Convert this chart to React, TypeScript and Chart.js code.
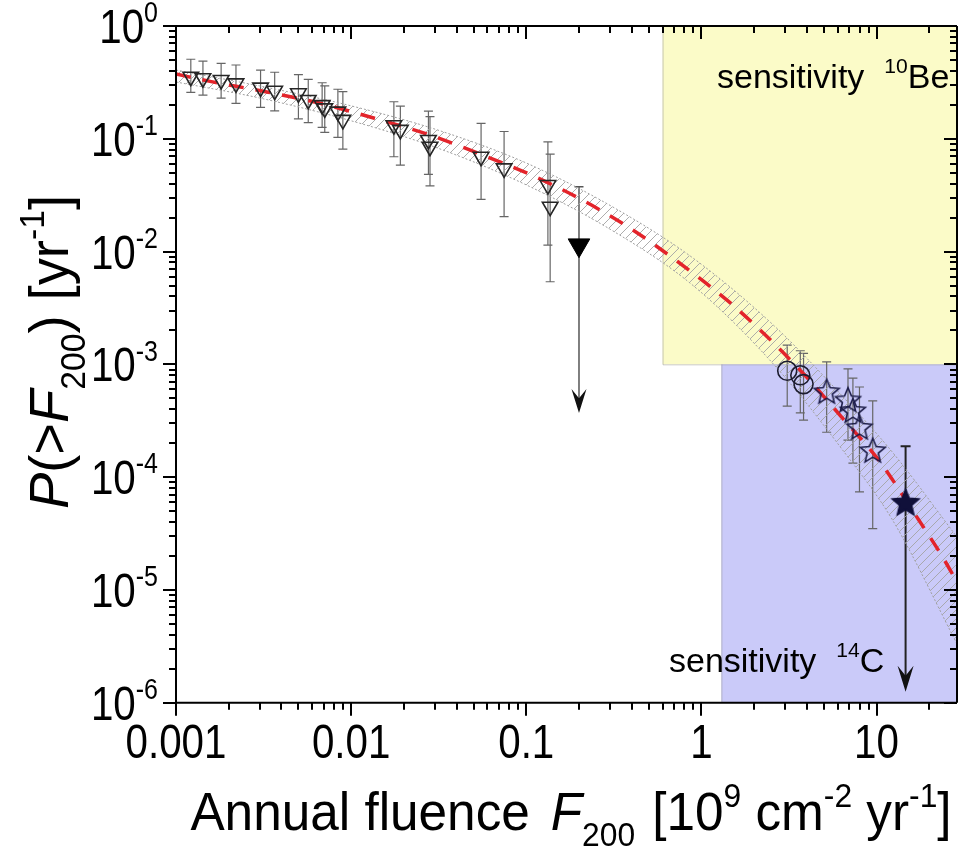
import { useEffect, useRef } from 'react';
import { Chart, registerables } from 'chart.js';
Chart.register(...registerables);

const W = 972;
const H = 848;
const FONT = '"Liberation Sans", Arial, sans-serif';

const X_MIN = 0.001;
const X_MAX = 28.8;
const Y_MIN = 1e-6;
const Y_MAX = 1;
const xTickValues = [0.001, 0.01, 0.1, 1, 10];
const xTickLabels = ['0.001', '0.01', '0.1', '1', '10'];
const yTickExponents = [0, -1, -2, -3, -4, -5, -6];

// sensitivity regions
const be10MinX = 0.6;
const be10MinY = 1e-3;
const c14MinX = 1.3;
const c14MaxY = 1e-3;

// fitted curve (red dashed)
const fitX = [0.001, 0.00159, 0.00325, 0.00665, 0.0136, 0.0272, 0.0533, 0.107, 0.209, 0.392, 0.734, 1.4, 2.27, 3.9, 6.43, 10.35, 16, 24.1, 29];
const fitY = [0.375, 0.321, 0.2615, 0.2063, 0.152, 0.11, 0.0743, 0.0477, 0.0286, 0.0161, 0.00812, 0.00371, 0.00188, 8.0e-4, 3.3e-4, 1.4e-4, 5.1e-5, 1.9e-5, 1.15e-5];

// uncertainty band
const bandX = [0.001, 0.003, 0.0096, 0.031, 0.1, 0.32, 0.91, 2.6, 6.4, 12.3, 29];
const bandUpper = [0.407, 0.294, 0.199, 0.12, 0.061, 0.0243, 0.0086, 0.0022, 5.2e-4, 1.67e-4, 2.9e-5];
const bandLower = [0.319, 0.23, 0.147, 0.083, 0.039, 0.0149, 0.0049, 9.9e-4, 1.74e-4, 4.2e-5, 3.25e-6];

// open triangles
const triX = [0.001215, 0.001425, 0.00181, 0.0022, 0.00304, 0.00366, 0.005, 0.00569, 0.00683, 0.00707, 0.0084, 0.00897, 0.01754, 0.0191, 0.02763, 0.0282, 0.0552, 0.0747, 0.1329, 0.1369];
const triY = [0.355, 0.344, 0.332, 0.31, 0.284, 0.267, 0.253, 0.221, 0.199, 0.186, 0.174, 0.147, 0.132, 0.12, 0.0975, 0.085, 0.0693, 0.0547, 0.0389, 0.025];
const triHi = [0.507, 0.489, 0.467, 0.451, 0.407, 0.389, 0.37, 0.337, 0.314, 0.295, 0.275, 0.262, 0.213, 0.195, 0.176, 0.157, 0.137, 0.116, 0.094, 0.073];
const triLo = [0.258, 0.244, 0.229, 0.206, 0.19, 0.177, 0.15, 0.139, 0.126, 0.114, 0.103, 0.081, 0.0693, 0.0585, 0.0484, 0.0383, 0.029, 0.0204, 0.0114, 0.0054];

// upper limit (filled triangle)
const limX = [0.2];
const limY = [0.0114];
const limHi = [0.0376];
const limTip = [3.7e-4];

// open circles
const circX = [3.09, 3.67, 3.83];
const circY = [8.77e-4, 8.0e-4, 6.68e-4];
const circHi = [1.48e-3, 1.32e-3, 1.25e-3];
const circLo = [4.26e-4, 3.72e-4, 3.2e-4];

// open stars
const starX = [5.19, 6.87, 7.33, 7.99, 9.51];
const starY = [5.79e-4, 4.89e-4, 3.93e-4, 2.79e-4, 1.74e-4];
const starHi = [1.05e-3, 9.1e-4, 7.55e-4, 6.3e-4, 4.75e-4];
const starLo = [2.5e-4, 2.13e-4, 1.33e-4, 7.4e-5, 3.5e-5];

// filled star (upper limit)
const fStarX = [14.65];
const fStarY = [6.04e-5];
const fStarHi = [1.88e-4];
const fStarTip = [1.25e-6];

type Seg = { t: string; it?: boolean; sup?: boolean; sub?: boolean; dx?: number };

function segFont(s: Seg, size: number) {
  const sz = s.sup || s.sub ? size * 0.62 : size;
  return `${s.it ? 'italic ' : ''}${sz}px ${FONT}`;
}

function drawRich(ctx: CanvasRenderingContext2D, segs: Seg[], x: number, y: number, size: number, align: 'left' | 'center' | 'right', sx = 1) {
  ctx.save();
  ctx.translate(x, y);
  ctx.scale(sx, 1);
  ctx.textBaseline = 'alphabetic';
  ctx.textAlign = 'left';
  let total = 0;
  const ws: number[] = [];
  for (const s of segs) {
    ctx.font = segFont(s, size);
    const w = ctx.measureText(s.t).width;
    ws.push(w);
    total += w + (s.dx || 0);
  }
  let cx = align === 'left' ? 0 : align === 'center' ? -total / 2 : -total;
  segs.forEach((s, i) => {
    cx += s.dx || 0;
    ctx.font = segFont(s, size);
    const dy = s.sup ? -0.43 * size : s.sub ? 0.3 * size : 0;
    ctx.fillText(s.t, cx, dy);
    cx += ws[i];
  });
  ctx.restore();
}

function makeStar(R: number, fill: string | null, stroke: string, lw: number) {
  const s = Math.ceil(2 * R + lw * 2 + 4);
  const c = document.createElement('canvas');
  c.width = s;
  c.height = s;
  const g = c.getContext('2d')!;
  const cx = s / 2;
  const cy = s / 2 + R * 0.1;
  g.beginPath();
  for (let i = 0; i < 10; i++) {
    const r = i % 2 === 0 ? R : R * 0.45;
    const a = -Math.PI / 2 + (i * Math.PI) / 5;
    g.lineTo(cx + r * Math.cos(a), cy + r * Math.sin(a));
  }
  g.closePath();
  if (fill) {
    g.fillStyle = fill;
    g.fill();
  }
  g.strokeStyle = stroke;
  g.lineWidth = lw;
  g.stroke();
  return c;
}

function vbar(ctx: CanvasRenderingContext2D, x: number, y1: number, y2: number, cap: number, top: boolean, bottom: boolean) {
  ctx.beginPath();
  ctx.moveTo(x, y1);
  ctx.lineTo(x, y2);
  if (top) {
    ctx.moveTo(x - cap, y1);
    ctx.lineTo(x + cap, y1);
  }
  if (bottom) {
    ctx.moveTo(x - cap, y2);
    ctx.lineTo(x + cap, y2);
  }
  ctx.stroke();
}

function arrowHead(ctx: CanvasRenderingContext2D, x: number, yt: number, w: number, len: number) {
  ctx.beginPath();
  ctx.moveTo(x, yt);
  ctx.lineTo(x - w / 2, yt - len);
  ctx.lineTo(x, yt - len * 0.62);
  ctx.lineTo(x + w / 2, yt - len);
  ctx.closePath();
  ctx.fill();
}

const deco = {
  id: 'deco',
  beforeDatasetsDraw(chart: any) {
    const { ctx, chartArea: a, scales } = chart;
    const xs = scales.x;
    const ys = scales.y;
    ctx.save();
    ctx.beginPath();
    ctx.rect(a.left, a.top, a.right - a.left, a.bottom - a.top);
    ctx.clip();
    const bx = xs.getPixelForValue(be10MinX);
    const by = ys.getPixelForValue(be10MinY);
    ctx.fillStyle = '#fbfbc8';
    ctx.fillRect(bx, a.top, a.right - bx, by - a.top);
    const cx = xs.getPixelForValue(c14MinX);
    const cy = ys.getPixelForValue(c14MaxY);
    ctx.fillStyle = '#cacaf9';
    ctx.fillRect(cx, cy, a.right - cx, a.bottom - cy);
    ctx.strokeStyle = 'rgba(150,150,150,0.5)';
    ctx.lineWidth = 1;
    ctx.beginPath();
    ctx.moveTo(bx + 0.5, a.top);
    ctx.lineTo(bx + 0.5, by + 0.5);
    ctx.lineTo(a.right, by + 0.5);
    ctx.moveTo(cx + 0.5, cy);
    ctx.lineTo(cx + 0.5, a.bottom);
    ctx.stroke();

    // error bars
    ctx.strokeStyle = '#666';
    ctx.lineWidth = 1.2;
    const bars = (X: number[], HI: number[], LO: number[]) => {
      X.forEach((v, i) => {
        vbar(ctx, xs.getPixelForValue(v), ys.getPixelForValue(HI[i]), ys.getPixelForValue(LO[i]), 4.5, true, true);
      });
    };
    bars(triX, triHi, triLo);
    bars(circX, circHi, circLo);
    bars(starX, starHi, starLo);

    // upper-limit arrows
    ctx.strokeStyle = '#555';
    ctx.fillStyle = '#111';
    ctx.lineWidth = 1.5;
    limX.forEach((v, i) => {
      const px = xs.getPixelForValue(v);
      const tip = ys.getPixelForValue(limTip[i]);
      vbar(ctx, px, ys.getPixelForValue(limHi[i]), tip - 10, 4.5, true, false);
      arrowHead(ctx, px, tip, 15, 24);
    });
    ctx.strokeStyle = '#222';
    ctx.lineWidth = 2;
    fStarX.forEach((v, i) => {
      const px = xs.getPixelForValue(v);
      const tip = ys.getPixelForValue(fStarTip[i]);
      vbar(ctx, px, ys.getPixelForValue(fStarHi[i]), tip - 10, 5, true, false);
      arrowHead(ctx, px, tip, 16, 26);
    });
    ctx.restore();
  },
  afterDraw(chart: any) {
    const { ctx, chartArea: a, scales } = chart;
    const xs = scales.x;
    const ys = scales.y;
    ctx.save();
    ctx.strokeStyle = '#000';
    ctx.fillStyle = '#000';
    ctx.lineWidth = 2;
    ctx.beginPath();
    ctx.moveTo(a.left, a.top);
    ctx.lineTo(a.right, a.top);
    ctx.moveTo(a.left, a.bottom);
    ctx.lineTo(a.right, a.bottom);
    ctx.moveTo(a.left, a.top);
    ctx.lineTo(a.left, a.bottom);
    ctx.moveTo(a.right, a.top);
    ctx.lineTo(a.right, a.bottom);
    ctx.stroke();
    const MAJ = 13;
    const MIN = 7;
    ctx.beginPath();
    for (let d = -3; d <= 1; d++) {
      for (let m = 1; m <= 9; m++) {
        const v = m * Math.pow(10, d);
        if (v < X_MIN * 0.999 || v > X_MAX) continue;
        const px = Math.round(xs.getPixelForValue(v));
        const L = m === 1 ? MAJ : MIN;
        ctx.moveTo(px, a.bottom);
        ctx.lineTo(px, a.bottom + L);
        ctx.moveTo(px, a.top);
        ctx.lineTo(px, a.top + L);
      }
    }
    for (let d = -6; d <= 0; d++) {
      for (let m = 1; m <= 9; m++) {
        const v = m * Math.pow(10, d);
        if (v < Y_MIN * 0.999 || v > Y_MAX * 1.001) continue;
        const py = Math.round(ys.getPixelForValue(v));
        const L = m === 1 ? MAJ : MIN;
        ctx.moveTo(a.left, py);
        ctx.lineTo(a.left - L, py);
        ctx.moveTo(a.right, py);
        ctx.lineTo(a.right - L, py);
      }
    }
    ctx.stroke();

    // tick labels
    xTickValues.forEach((v, i) => {
      drawRich(ctx, [{ t: xTickLabels[i] }], xs.getPixelForValue(v), a.bottom + 55, 48, 'center', 0.84);
    });
    yTickExponents.forEach((e) => {
      const py = ys.getPixelForValue(Math.pow(10, e));
      drawRich(ctx, [{ t: '10' }, { t: String(e), sup: true }], 158, py + 17, 48, 'right', 0.84);
    });

    // axis titles
    drawRich(
      ctx,
      [
        { t: 'Annual fluence' },
        { t: 'F', it: true, dx: 22 },
        { t: '200', sub: true },
        { t: '[10', dx: 18 },
        { t: '9', sup: true },
        { t: ' cm' },
        { t: '-2', sup: true },
        { t: ' yr' },
        { t: '-1', sup: true },
        { t: ']' },
      ],
      571,
      830,
      54,
      'center',
      0.95
    );
    ctx.save();
    ctx.translate(68, 352);
    ctx.rotate(-Math.PI / 2);
    drawRich(
      ctx,
      [
        { t: 'P', it: true },
        { t: '(>' },
        { t: 'F', it: true },
        { t: '200', sub: true },
        { t: ') [yr' },
        { t: '-1', sup: true },
        { t: ']' },
      ],
      0,
      0,
      56,
      'center',
      0.97
    );
    ctx.restore();

    // region annotations
    drawRich(ctx, [{ t: 'sensitivity' }, { t: '10', sup: true, dx: 20 }, { t: 'Be' }], 717, 88, 34, 'left', 1);
    drawRich(ctx, [{ t: 'sensitivity' }, { t: '14', sup: true, dx: 20 }, { t: 'C' }], 669, 672, 34, 'left', 1);
    ctx.restore();
  },
};

const pts = (X: number[], Y: number[]) => X.map((v, i) => ({ x: v, y: Y[i] }));

export default function App() {
  const ref = useRef<HTMLCanvasElement>(null);
  useEffect(() => {
    const canvas = ref.current!;
    const ctx = canvas.getContext('2d')!;
    const T = 9;
    const pc = document.createElement('canvas');
    pc.width = T;
    pc.height = T;
    const p = pc.getContext('2d')!;
    p.strokeStyle = '#a4a4a4';
    p.lineWidth = 0.9;
    p.beginPath();
    p.moveTo(0, T);
    p.lineTo(T, 0);
    p.moveTo(-1, 1);
    p.lineTo(1, -1);
    p.moveTo(T - 1, T + 1);
    p.lineTo(T + 1, T - 1);
    p.stroke();
    const pattern = ctx.createPattern(pc, 'repeat');
    const openStar = makeStar(13, null, '#1c1c48', 1.6);
    const fullStar = makeStar(14.5, '#10103a', '#10103a', 1.2);

    const chart = new Chart(canvas, {
      type: 'line',
      data: {
        datasets: [
          {
            label: 'band upper',
            data: pts(bandX, bandUpper),
            borderColor: '#a0a0a0',
            borderWidth: 1,
            borderDash: [2, 2],
            backgroundColor: pattern as any,
            fill: '+1',
            pointRadius: 0,
            cubicInterpolationMode: 'monotone',
            order: 10,
          },
          {
            label: 'band lower',
            data: pts(bandX, bandLower),
            borderColor: '#a0a0a0',
            borderWidth: 1,
            borderDash: [2, 2],
            fill: false,
            pointRadius: 0,
            cubicInterpolationMode: 'monotone',
            order: 10,
          },
          {
            label: 'fit',
            data: pts(fitX, fitY),
            borderColor: '#e3242b',
            borderWidth: 3.5,
            borderDash: [15, 12],
            fill: false,
            pointRadius: 0,
            cubicInterpolationMode: 'monotone',
            order: 5,
          },
          {
            label: 'triangles',
            data: pts(triX, triY),
            showLine: false,
            pointStyle: 'triangle',
            pointRotation: 180,
            pointRadius: 9,
            pointBorderWidth: 1.6,
            pointBorderColor: '#262626',
            pointBackgroundColor: 'rgba(255,255,255,0)',
            order: 1,
          },
          {
            label: 'limit',
            data: pts(limX, limY),
            showLine: false,
            pointStyle: 'triangle',
            pointRotation: 180,
            pointRadius: 12.5,
            pointBorderWidth: 1,
            pointBorderColor: '#000',
            pointBackgroundColor: '#000',
            order: 0,
          },
          {
            label: 'circles',
            data: pts(circX, circY),
            showLine: false,
            pointStyle: 'circle',
            pointRadius: 9.5,
            pointBorderWidth: 1.6,
            pointBorderColor: '#1c1c30',
            pointBackgroundColor: 'rgba(255,255,255,0)',
            order: 1,
          },
          {
            label: 'stars',
            data: pts(starX, starY),
            showLine: false,
            pointStyle: openStar as any,
            pointRadius: 13,
            order: 1,
          },
          {
            label: 'filled star',
            data: pts(fStarX, fStarY),
            showLine: false,
            pointStyle: fullStar as any,
            pointRadius: 14,
            order: 0,
          },
        ],
      },
      options: {
        responsive: false,
        animation: false,
        events: [],
        layout: { padding: { left: 176, top: 26, right: W - 967, bottom: H - 702.7 } },
        scales: {
          x: { type: 'logarithmic', min: X_MIN, max: X_MAX, display: false },
          y: { type: 'logarithmic', min: Y_MIN, max: Y_MAX, display: false },
        },
        plugins: { legend: { display: false }, tooltip: { enabled: false } },
      },
      plugins: [deco],
    } as any);
    return () => chart.destroy();
  }, []);
  return (
    <div style={{ position: 'absolute', left: 0, top: 0, width: 960, height: 848, overflow: 'hidden', background: '#fff' }}>
      <canvas ref={ref} width={W} height={H} style={{ display: 'block', width: W, height: H }} />
    </div>
  );
}
